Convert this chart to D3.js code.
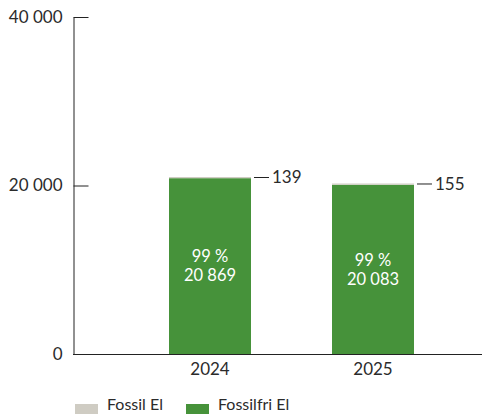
<!DOCTYPE html>
<html>
<head>
<meta charset="utf-8">
<script src="https://cdn.jsdelivr.net/npm/d3@7"></script>
<style>
  html, body { margin: 0; padding: 0; background: #fff; }
  svg { display: block; font-family: Lato, "Noto Sans", sans-serif; }
</style>
</head>
<body>
<svg id="chart" width="482" height="414"></svg>
<script>
// Electricity use per year, split into fossil and fossil-free sources
const years = ["2024", "2025"];
const fossilFree = [20869, 20083];
const fossil = [139, 155];
const yTicks = [0, 20000, 40000];
const seriesNames = ["Fossil El", "Fossilfri El"];
const seriesColors = ["#cfccc3", "#46923a"];

const svg = d3.select("#chart");
const textColor = "#2b2b2b";
const axisColor = "#222";
const fontSize = "17px";

const x = d3.scaleBand()
  .domain(years)
  .range([128.5, 454.5])
  .paddingInner(0.497)
  .paddingOuter(0.2485);

const y = d3.scaleLinear().domain([0, 40000]).range([354, 17]);

const fmt = v => d3.format(",")(v).replace(/,/g, " ");

// Y axis with inward ticks
const yAxis = svg.append("g")
  .attr("transform", "translate(73.5,0)")
  .call(d3.axisLeft(y).tickValues(yTicks).tickSizeInner(-15).tickSizeOuter(0).tickPadding(11).tickFormat(fmt));
yAxis.select(".domain").attr("stroke", axisColor);
yAxis.selectAll(".tick line").attr("stroke", axisColor);
yAxis.selectAll(".tick text")
  .attr("fill", textColor)
  .style("font-size", fontSize)
  .style("font-family", "Lato, sans-serif");

// Stacked bars
const rows = years.map((yr, i) => ({ year: yr, fossilFree: fossilFree[i], fossil: fossil[i] }));

const bars = svg.append("g");
rows.forEach(d => {
  const x0 = x(d.year);
  const w = x.bandwidth();
  bars.append("rect")
    .attr("x", x0).attr("width", w)
    .attr("y", y(d.fossilFree)).attr("height", y(0) - y(d.fossilFree))
    .attr("fill", seriesColors[1]);
  bars.append("rect")
    .attr("x", x0).attr("width", w)
    .attr("y", y(d.fossilFree + d.fossil)).attr("height", y(d.fossilFree) - y(d.fossilFree + d.fossil))
    .attr("fill", seriesColors[0]);

  // Fossil value with leader line
  const ty = y(d.fossilFree + d.fossil) + 0.5;
  bars.append("line")
    .attr("x1", x0 + w + 3).attr("x2", x0 + w + 18)
    .attr("y1", ty).attr("y2", ty)
    .attr("stroke", axisColor).attr("stroke-width", 1);
  bars.append("text")
    .attr("x", x0 + w + 21).attr("y", ty)
    .attr("dy", "0.35em")
    .attr("fill", textColor)
    .style("font-size", fontSize)
    .text(fmt(d.fossil));

  // Share and value inside the fossil-free segment
  const total = d.fossilFree + d.fossil;
  const mid = (y(0) + y(d.fossilFree)) / 2;
  const cx = x0 + w / 2;
  bars.append("text")
    .attr("x", cx).attr("y", mid - 9.5).attr("dy", "0.35em")
    .attr("text-anchor", "middle").attr("fill", "#fff")
    .style("font-size", "16.5px")
    .text(Math.round(d.fossilFree / total * 100) + " %");
  bars.append("text")
    .attr("x", cx).attr("y", mid + 9.5).attr("dy", "0.35em")
    .attr("text-anchor", "middle").attr("fill", "#fff")
    .style("font-size", "16.5px")
    .text(fmt(d.fossilFree));
});

// X axis baseline across the full width
svg.append("line")
  .attr("x1", 73).attr("x2", 482)
  .attr("y1", y(0) + 0.5).attr("y2", y(0) + 0.5)
  .attr("stroke", axisColor);

const xAxis = svg.append("g")
  .attr("transform", `translate(0,${y(0)})`)
  .call(d3.axisBottom(x).tickSize(0).tickPadding(9));
xAxis.select(".domain").remove();
xAxis.selectAll(".tick text")
  .attr("fill", textColor)
  .style("font-size", fontSize)
  .style("font-family", "Lato, sans-serif");

// Legend
const legend = svg.append("g").attr("transform", "translate(75,404)");
const legendX = [0, 111];
seriesNames.forEach((name, i) => {
  const g = legend.append("g").attr("transform", `translate(${legendX[i]},0)`);
  g.append("rect").attr("width", 23).attr("height", 20).attr("fill", seriesColors[i]);
  g.append("text")
    .attr("x", 32).attr("y", 0.5)
    .attr("dy", "0.35em")
    .attr("fill", textColor)
    .style("font-size", "16px")
    .text(name);
});
</script>
</body>
</html>
